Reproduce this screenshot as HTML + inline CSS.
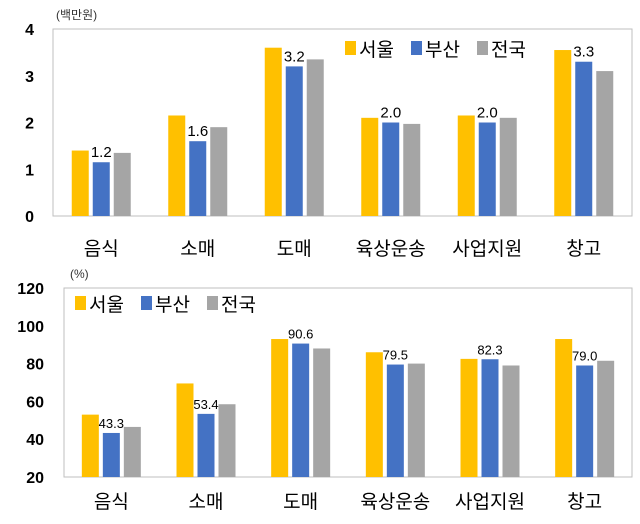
<!DOCTYPE html>
<html><head><meta charset="utf-8"><style>
body{margin:0;background:#fff;width:640px;height:519px;overflow:hidden}
svg text{font-family:"Liberation Sans","Noto Sans CJK KR",sans-serif}
</style></head><body>
<svg id="c" width="640" height="519"></svg>
<script>
const categories=["음식","소매","도매","육상운송","사업지원","창고"];
const seriesNames=["서울","부산","전국"];
const colors=["#FFC000","#4472C4","#A5A5A5"];
const topSeoul=[1.4,2.15,3.6,2.1,2.15,3.55];
const topBusan=[1.15,1.6,3.2,2.0,2.0,3.3];
const topNation=[1.35,1.9,3.35,1.97,2.1,3.1];
const topLabels=["1.2","1.6","3.2","2.0","2.0","3.3"];
const topTicks=[0,1,2,3,4];
const botSeoul=[53,69.5,93,86,82.5,93];
const botBusan=[43.3,53.4,90.6,79.5,82.3,79.0];
const botNation=[46.5,58.5,88,80,79,81.5];
const botLabels=["43.3","53.4","90.6","79.5","82.3","79.0"];
const botTicks=[20,40,60,80,100,120];
const svg=document.getElementById('c');
const NS='http://www.w3.org/2000/svg';
function mk(t,a,txt){const e=document.createElementNS(NS,t);for(const k in a)e.setAttribute(k,a[k]);if(txt!=null)e.textContent=txt;svg.appendChild(e);return e;}
function chart(o){
  const y=v=>o.y0+(v-o.vmin)/(o.vmax-o.vmin)*(o.y1-o.y0);
  const bw=(o.right-o.left)/categories.length;
  const x=i=>o.left+bw*(i+0.5);
  const box=mk('rect',{x:o.left,y:y(o.vmax),width:o.right-o.left,height:y(o.vmin)-y(o.vmax),fill:'none',stroke:'#bfbfbf','stroke-width':1});
  
  
  o.ticks.forEach(t=>{const e=mk('text',{x:o.tickX,y:y(t)+6,'text-anchor':'end','font-size':16,'font-weight':'bold',fill:'#000'},t);
    
    });
  const u=mk('text',{x:o.unitX,y:y(o.vmax)-10,'font-size':12,fill:'#333'},o.unit);
  
  
  const series=[o.s,o.b,o.n];
  categories.forEach((c,i)=>{
    series.forEach((arr,j)=>{
      const bx=x(i)+(j-1)*21-8.5;
      const r=mk('rect',{x:bx,y:y(arr[i]),width:17,height:y(o.vmin)-y(arr[i]),fill:colors[j]});
      
      
    });
    const l=mk('text',{x:x(i),y:y(o.b[i])-5,'text-anchor':'middle','font-size':o.lfs,fill:'#000'},o.labels[i]);
    
    
    const cl=mk('text',{x:x(i),y:o.catY,'text-anchor':'middle','font-size':19,fill:'#000'},c);
    
    
  });
  seriesNames.forEach((n,j)=>{
    const lx=o.legX+j*66;
    const s=mk('rect',{x:lx,y:o.legY-13,width:11,height:14,fill:colors[j]});
    
    
    const t=mk('text',{x:lx+14,y:o.legY+2,'font-size':19,fill:'#000'},n);
    
    
  });
}
chart({p:'top',left:53,right:632,y0:216,y1:29,vmin:0,vmax:4,ticks:topTicks,tickX:34,unit:'(백만원)',unitX:56,s:topSeoul,b:topBusan,n:topNation,labels:topLabels,lfs:15,catY:255,legX:345,legY:54});
chart({p:'bottom',left:64,right:632,y0:477,y1:288,vmin:20,vmax:120,ticks:botTicks,tickX:44,unit:'(%)',unitX:70,s:botSeoul,b:botBusan,n:botNation,labels:botLabels,lfs:13,catY:508,legX:75,legY:309});
</script>
</body></html>
